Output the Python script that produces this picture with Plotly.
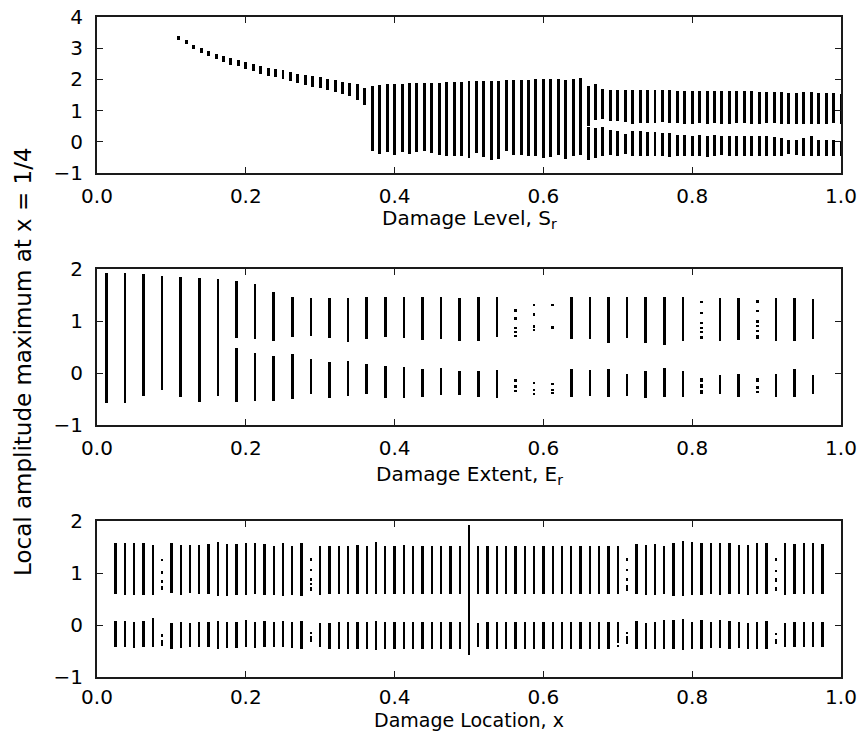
import plotly.graph_objects as go

# ---------------- Panel 1: Damage Level ----------------
level_single_x = [0.11, 0.12, 0.13, 0.14, 0.15, 0.16, 0.17, 0.18, 0.19, 0.20, 0.21, 0.22, 0.23,
                  0.24, 0.25, 0.26, 0.27, 0.28, 0.29, 0.30, 0.31, 0.32, 0.33, 0.34, 0.35, 0.36]
level_single_hi = [3.38, 3.25, 3.11, 3.01, 2.92, 2.82, 2.76, 2.69, 2.63, 2.56, 2.50, 2.44, 2.38,
                   2.33, 2.29, 2.23, 2.17, 2.14, 2.10, 2.07, 2.02, 1.97, 1.92, 1.88, 1.84, 1.72]
level_single_lo = [3.25, 3.12, 2.97, 2.85, 2.74, 2.65, 2.56, 2.47, 2.42, 2.34, 2.26, 2.18, 2.12,
                   2.07, 2.01, 1.94, 1.89, 1.82, 1.76, 1.71, 1.67, 1.59, 1.53, 1.46, 1.35, 1.18]

level_full_x = [0.37, 0.38, 0.39, 0.40, 0.41, 0.42, 0.43, 0.44, 0.45, 0.46, 0.47, 0.48, 0.49, 0.50,
                0.51, 0.52, 0.53, 0.54, 0.55, 0.56, 0.57, 0.58, 0.59, 0.60, 0.61, 0.62, 0.63, 0.64, 0.65]
level_full_hi = [1.80, 1.81, 1.84, 1.86, 1.86, 1.87, 1.88, 1.88, 1.90, 1.90, 1.92, 1.92, 1.93, 1.94,
                 1.94, 1.94, 1.94, 1.96, 1.97, 1.99, 1.99, 1.99, 2.01, 2.01, 2.01, 2.01, 1.99, 2.01, 2.03]
level_full_lo = [-0.31, -0.38, -0.34, -0.41, -0.34, -0.39, -0.34, -0.31, -0.36, -0.42, -0.44, -0.44, -0.47, -0.52,
                 -0.36, -0.50, -0.57, -0.55, -0.31, -0.41, -0.41, -0.47, -0.47, -0.52, -0.50, -0.41, -0.55, -0.47, -0.41]

level_split_x = [0.66, 0.67, 0.68, 0.69, 0.70, 0.71, 0.72, 0.73, 0.74, 0.75, 0.76, 0.77, 0.78, 0.79,
                 0.80, 0.81, 0.82, 0.83, 0.84, 0.85, 0.86, 0.87, 0.88, 0.89, 0.90, 0.91, 0.92, 0.93,
                 0.94, 0.95, 0.96, 0.97, 0.98, 0.99, 1.00]
level_upper_hi = [1.80, 1.85, 1.69, 1.67, 1.67, 1.67, 1.65, 1.65, 1.65, 1.65, 1.65, 1.65, 1.64, 1.64,
                  1.64, 1.64, 1.64, 1.63, 1.62, 1.62, 1.62, 1.63, 1.62, 1.61, 1.61, 1.60, 1.59, 1.56,
                  1.56, 1.59, 1.59, 1.56, 1.56, 1.56, 1.53]
level_upper_lo = [0.52, 0.70, 0.73, 0.66, 0.66, 0.62, 0.58, 0.60, 0.60, 0.60, 0.62, 0.60, 0.60, 0.58,
                  0.58, 0.60, 0.58, 0.60, 0.58, 0.58, 0.60, 0.60, 0.58, 0.58, 0.60, 0.60, 0.58, 0.58,
                  0.58, 0.58, 0.58, 0.58, 0.58, 0.60, 0.58]
level_lower_hi = [0.48, 0.45, 0.47, 0.37, 0.34, 0.26, 0.34, 0.34, 0.30, 0.31, 0.28, 0.28, 0.23, 0.23,
                  0.20, 0.23, 0.20, 0.23, 0.20, 0.18, 0.18, 0.18, 0.20, 0.18, 0.18, 0.15, 0.12, 0.05,
                  0.05, 0.12, 0.18, 0.07, 0.07, 0.07, 0.01]
level_lower_lo = [-0.57, -0.52, -0.47, -0.41, -0.47, -0.38, -0.47, -0.47, -0.45, -0.45, -0.47, -0.49, -0.47, -0.45,
                  -0.47, -0.47, -0.49, -0.47, -0.41, -0.47, -0.47, -0.45, -0.47, -0.47, -0.45, -0.45, -0.45, -0.38,
                  -0.41, -0.47, -0.45, -0.47, -0.47, -0.45, -0.47]

# ---------------- Panel 2: Damage Extent ----------------
ext_x = [0.0125, 0.0375, 0.0625, 0.0875, 0.1125, 0.1375, 0.1625, 0.1875, 0.2125, 0.2375, 0.2625, 0.2875, 0.3125,
         0.3375, 0.3625, 0.3875, 0.4125, 0.4375, 0.4625, 0.4875, 0.5125, 0.5375, 0.5625, 0.5875, 0.6125, 0.6375,
         0.6625, 0.6875, 0.7125, 0.7375, 0.7625, 0.7875, 0.8125, 0.8375, 0.8625, 0.8875, 0.9125, 0.9375, 0.9625]
ext_upper_hi = [1.92, 1.92, 1.90, 1.87, 1.84, 1.82, 1.80, 1.77, 1.71, 1.55, 1.47, 1.45, 1.45,
                1.45, 1.455, 1.455, 1.455, 1.455, 1.455, 1.44, 1.455, 1.455, None, None, None, 1.47,
                1.47, 1.47, 1.455, 1.455, 1.47, 1.47, None, 1.45, 1.45, None, 1.44, 1.45, 1.42]
ext_upper_lo = [-0.58, -0.58, -0.44, -0.33, -0.46, -0.56, -0.44, 0.67, 0.65, 0.62, 0.69, 0.71, 0.67,
                0.60, 0.65, 0.70, 0.67, 0.635, 0.65, 0.62, 0.615, 0.69, None, None, None, 0.65,
                0.65, 0.57, 0.67, 0.57, 0.54, 0.615, None, 0.615, 0.635, None, 0.615, 0.615, 0.65]
ext_lower_hi = [None, None, None, None, None, None, None, 0.49, 0.39, 0.33, 0.36, 0.27, 0.22,
                0.23, 0.17, 0.135, 0.11, 0.07, 0.09, 0.04, 0.03, 0.06, None, None, None, 0.07,
                0.06, 0.08, -0.01, 0.03, 0.10, 0.03, None, -0.03, -0.02, None, -0.02, 0.08, -0.04]
ext_lower_lo = [None, None, None, None, None, None, None, -0.55, -0.54, -0.53, -0.50, -0.40, -0.49,
                -0.44, -0.40, -0.49, -0.49, -0.47, -0.42, -0.42, -0.47, -0.49, None, None, None, -0.455,
                -0.44, -0.47, -0.44, -0.49, -0.455, -0.455, None, -0.41, -0.455, None, -0.47, -0.47, -0.41]
# broken (dotted) columns
ext_dot_x = [0.5625] * 8 + [0.5875] * 7 + [0.6125] * 5 + [0.8125] * 9 + [0.8875] * 9
ext_dot_hi = [1.23, 1.07, 0.89, 0.80, 0.74, -0.12, -0.24, -0.33,
              1.33, 1.15, 0.92, 0.84, -0.17, -0.30, -0.38,
              1.33, 0.90, -0.20, -0.31, -0.37,
              1.385, 1.18, 0.99, 0.88, 0.80, 0.72, -0.10, -0.22, -0.33,
              1.40, 1.22, 1.02, 0.93, 0.83, 0.73, -0.10, -0.25, -0.34]
ext_dot_lo = [1.18, 1.01, 0.84, 0.77, 0.70, -0.17, -0.29, -0.37,
              1.29, 1.10, 0.87, 0.80, -0.21, -0.34, -0.42,
              1.29, 0.85, -0.24, -0.34, -0.40,
              1.34, 1.13, 0.94, 0.84, 0.76, 0.65, -0.17, -0.28, -0.40,
              1.35, 1.17, 0.97, 0.89, 0.78, 0.65, -0.17, -0.30, -0.39]

# ---------------- Panel 3: Damage Location ----------------
loc_x = [0.025, 0.0375, 0.05, 0.0625, 0.075, 0.0875, 0.1, 0.1125, 0.125, 0.1375, 0.15, 0.1625, 0.175,
         0.1875, 0.2, 0.2125, 0.225, 0.2375, 0.25, 0.2625, 0.275, 0.2875, 0.3, 0.3125, 0.325, 0.3375,
         0.35, 0.3625, 0.375, 0.3875, 0.4, 0.4125, 0.425, 0.4375, 0.45, 0.4625, 0.475, 0.4875, 0.5,
         0.5125, 0.525, 0.5375, 0.55, 0.5625, 0.575, 0.5875, 0.6, 0.6125, 0.625, 0.6375, 0.65, 0.6625,
         0.675, 0.6875, 0.7, 0.7125, 0.725, 0.7375, 0.75, 0.7625, 0.775, 0.7875, 0.8, 0.8125, 0.825,
         0.8375, 0.85, 0.8625, 0.875, 0.8875, 0.9, 0.9125, 0.925, 0.9375, 0.95, 0.9625, 0.975]
loc_upper_hi = [1.57, 1.58, 1.58, 1.57, 1.54, None,
                1.57, 1.54, 1.53, 1.54, 1.56, 1.59, 1.56, 1.56, 1.58, 1.58, 1.56, 1.52, 1.57, 1.52, 1.57,
                None,
                1.52, 1.52, 1.52, 1.52, 1.53, 1.52, 1.60, 1.52, 1.52, 1.53, 1.52, 1.52, 1.52, 1.52, 1.52, 1.52,
                1.92,
                1.51, 1.51, 1.51, 1.51, 1.51, 1.51, 1.51, 1.51, 1.51, 1.51, 1.51, 1.52, 1.51, 1.51, 1.51,
                1.52, None,
                1.56, 1.54, 1.56, 1.51, 1.57, 1.62, 1.60, 1.58, 1.57, 1.57, 1.57, 1.53, 1.53, 1.57, 1.57,
                None,
                1.57, 1.56, 1.57, 1.57, 1.56]
loc_upper_lo = [0.60, 0.58, 0.58, 0.58, 0.58, None,
                0.62, 0.58, 0.61, 0.60, 0.60, 0.56, 0.56, 0.58, 0.58, 0.60, 0.58, 0.58, 0.56, 0.58, 0.56,
                None,
                0.58, 0.60, 0.60, 0.60, 0.60, 0.60, 0.60, 0.60, 0.60, 0.60, 0.60, 0.60, 0.60, 0.60, 0.60, 0.60,
                -0.58,
                0.60, 0.60, 0.60, 0.60, 0.60, 0.60, 0.60, 0.60, 0.60, 0.60, 0.60, 0.60, 0.60, 0.60, 0.60,
                0.60, None,
                0.60, 0.58, 0.58, 0.60, 0.56, 0.56, 0.58, 0.58, 0.60, 0.58, 0.60, 0.60, 0.58, 0.60, 0.60,
                None,
                0.58, 0.60, 0.60, 0.60, 0.60]
loc_lower_hi = [0.08, 0.08, 0.06, 0.08, 0.13, None,
                0.03, 0.06, 0.03, 0.05, 0.06, 0.08, 0.05, 0.06, 0.10, 0.06, 0.08, 0.05, 0.08, 0.05, 0.08,
                None,
                0.03, 0.03, 0.05, 0.05, 0.05, 0.05, 0.08, 0.05, 0.05, 0.05, 0.05, 0.05, 0.05, 0.05, 0.05, 0.05,
                None,
                0.03, 0.05, 0.05, 0.05, 0.05, 0.05, 0.05, 0.05, 0.05, 0.05, 0.05, 0.05, 0.05, 0.05, 0.05,
                0.05, None,
                0.08, 0.03, 0.05, 0.10, 0.10, 0.12, 0.06, 0.10, 0.06, 0.10, 0.08, 0.05, 0.03, 0.06, 0.08,
                None,
                0.03, 0.05, 0.05, 0.05, 0.05]
loc_lower_lo = [-0.42, -0.43, -0.45, -0.42, -0.42, None,
                -0.47, -0.45, -0.43, -0.43, -0.42, -0.47, -0.45, -0.45, -0.43, -0.45, -0.42, -0.42, -0.42, -0.45, -0.46,
                None,
                -0.42, -0.46, -0.46, -0.46, -0.46, -0.46, -0.48, -0.46, -0.46, -0.46, -0.46, -0.46, -0.46, -0.46, -0.46, -0.46,
                None,
                -0.42, -0.46, -0.46, -0.46, -0.46, -0.46, -0.46, -0.46, -0.46, -0.46, -0.46, -0.46, -0.46, -0.46, -0.46,
                -0.35, None,
                -0.46, -0.46, -0.46, -0.46, -0.46, -0.48, -0.47, -0.47, -0.45, -0.45, -0.47, -0.45, -0.47, -0.46, -0.46,
                None,
                -0.42, -0.42, -0.42, -0.42, -0.42]
loc_dot_x = [0.0875] * 6 + [0.2875] * 7 + [0.7] + [0.7125] * 6 + [0.9125] * 6
loc_dot_hi = [1.27, 1.03, 0.86, 0.75, -0.18, -0.28,
              1.28, 1.08, 0.90, 0.81, 0.74, -0.14, -0.22,
              -0.38,
              1.28, 1.08, 0.90, 0.76, -0.14, -0.22,
              1.28, 1.06, 0.90, 0.74, -0.16, -0.26]
loc_dot_lo = [1.23, 0.99, 0.81, 0.67, -0.23, -0.40,
              1.24, 1.04, 0.85, 0.77, 0.66, -0.18, -0.33,
              -0.42,
              1.24, 1.04, 0.85, 0.66, -0.18, -0.36,
              1.24, 1.02, 0.82, 0.66, -0.20, -0.36]

# ---------------- figure ----------------
W, H = 862, 731
L, R = 97 / W, 841 / W


def py(p):
    return 1 - p / H


fig = go.Figure()


def add_bars(xs, his, los, xa, ya, width):
    xx, base, hh = [], [], []
    for x, h, l in zip(xs, his, los):
        if h is None or l is None:
            continue
        xx.append(x)
        base.append(l)
        hh.append(h - l)
    fig.add_trace(go.Bar(x=xx, y=hh, base=base, width=width, xaxis=xa, yaxis=ya,
                         marker=dict(color="black", line=dict(width=0)), opacity=1,
                         hoverinfo="skip", showlegend=False))


add_bars(level_single_x, level_single_hi, level_single_lo, "x", "y", 0.0040)
add_bars(level_full_x, level_full_hi, level_full_lo, "x", "y", 0.0040)
add_bars(level_split_x, level_upper_hi, level_upper_lo, "x", "y", 0.0040)
add_bars(level_split_x, level_lower_hi, level_lower_lo, "x", "y", 0.0040)

add_bars(ext_x, ext_upper_hi, ext_upper_lo, "x2", "y2", 0.0035)
add_bars(ext_x, ext_lower_hi, ext_lower_lo, "x2", "y2", 0.0035)
add_bars(ext_dot_x, ext_dot_hi, ext_dot_lo, "x2", "y2", 0.0035)

add_bars(loc_x, loc_upper_hi, loc_upper_lo, "x3", "y3", 0.0032)
add_bars(loc_x, loc_lower_hi, loc_lower_lo, "x3", "y3", 0.0032)
add_bars(loc_dot_x, loc_dot_hi, loc_dot_lo, "x3", "y3", 0.0032)

FONT = "DejaVu Sans"
axcommon = dict(showline=True, linecolor="#1a1a1a", linewidth=2, mirror="ticks",
                ticks="inside", ticklen=6, tickwidth=1, tickcolor="#1a1a1a",
                showgrid=False, zeroline=False, automargin=False,
                tickfont=dict(family=FONT, size=20, color="black"))

xcommon = dict(axcommon, range=[0, 1], tick0=0, dtick=0.2, tickformat=".1f",
               domain=[L, R], ticklabelstandoff=4)

fig.update_layout(
    width=W, height=H,
    margin=dict(l=0, r=0, t=0, b=0, pad=0, autoexpand=False),
    paper_bgcolor="white", plot_bgcolor="white",
    barmode="overlay", bargap=0,
    xaxis=dict(xcommon, anchor="y"),
    xaxis2=dict(xcommon, anchor="y2"),
    xaxis3=dict(xcommon, anchor="y3", ticklabelstandoff=1),
    yaxis=dict(axcommon, range=[-1, 4], dtick=1, tick0=0, anchor="x",
               domain=[py(173), py(17)], ticklabelstandoff=8),
    yaxis2=dict(axcommon, range=[-1, 2], dtick=1, tick0=0, anchor="x2",
                domain=[py(425), py(269)], ticklabelstandoff=8),
    yaxis3=dict(axcommon, range=[-1, 2], dtick=1, tick0=0, anchor="x3",
                domain=[py(677), py(521)], ticklabelstandoff=8),
)

titles = [("Damage Level, S<sub>r</sub>", 219, 20),
          ("Damage Extent, E<sub>r</sub>", 475, 20),
          ("Damage Location, x", 720, 19)]
for txt, ypix, fs in titles:
    fig.add_annotation(text=txt, xref="paper", yref="paper", x=(L + R) / 2, y=py(ypix),
                       xanchor="center", yanchor="middle", showarrow=False,
                       font=dict(family=FONT, size=fs, color="black"))

fig.add_annotation(text="Local amplitude maximum at x = 1/4", xref="paper", yref="paper",
                   x=23 / W, y=py(362), xanchor="center", yanchor="middle", textangle=-90,
                   showarrow=False, font=dict(family=FONT, size=23, color="black"))

fig.write_html("out.html", config={"displayModeBar": False},
               post_script="document.body.style.margin='0';document.body.style.overflow='hidden';")
